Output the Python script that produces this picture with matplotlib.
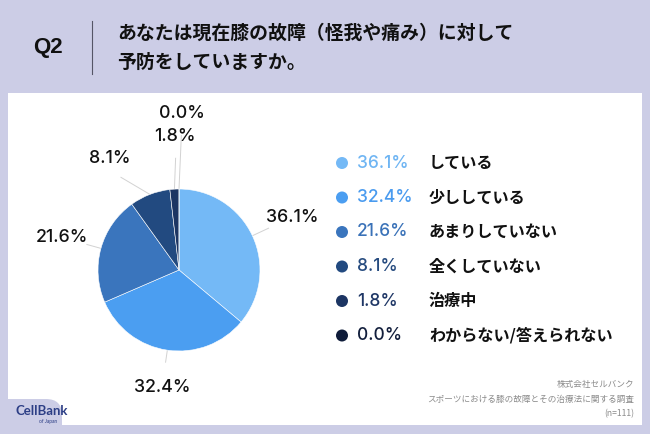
import numpy as np
import matplotlib.pyplot as plt
from matplotlib.patches import Rectangle, FancyBboxPatch, Circle

plt.rcParams['font.family'] = ['Noto Sans CJK JP', 'DejaVu Sans']

# Data
categories = ['している', '少ししている', 'あまりしていない', '全くしていない', '治療中', 'わからない/答えられない']
values = [36.1, 32.4, 21.6, 8.1, 1.8, 0.0]
colors = ['#74b9f6', '#4b9ef1', '#3a75bd', '#224a80', '#1c3563', '#0f1c3a']
legend_text_colors = ['#6fb5f3', '#4a9bef', '#3a72b8', '#264b7f', '#1f3766', '#121e3c']

title_q = 'Q2'
title_lines = ['あなたは現在膝の故障（怪我や痛み）に対して', '予防をしていますか。']
footer = ['株式会社セルバンク', 'スポーツにおける膝の故障とその治療法に関する調査', '(n=111)']

W, H = 650, 434
bg = '#cccde6'

fig = plt.figure(figsize=(6.5, 4.34), dpi=100)
fig.patch.set_facecolor(bg)

# pixel-coordinate canvas
cv = fig.add_axes([0, 0, 1, 1])
cv.set_xlim(0, W)
cv.set_ylim(H, 0)
cv.axis('off')

# white panel + logo tab
cv.add_patch(Rectangle((8, 93), 634, 332, facecolor='white', edgecolor='none'))
cv.add_patch(FancyBboxPatch((-30, 399), 92, 60, boxstyle='round,pad=0,rounding_size=16',
                            facecolor=bg, edgecolor='none'))

# header
cv.text(48, 48, title_q, fontsize=16, fontweight='bold', ha='center', va='center',
        family=['Liberation Sans', 'DejaVu Sans'], color='#111111')
cv.plot([92, 92], [21, 74], color='#555566', lw=0.8)
for i, line in enumerate(title_lines):
    cv.text(117, 33 + i * 29, line, fontsize=13.6, fontweight='bold', ha='left', va='center',
            color='#111111')

# pie
cx, cy, r = 179, 270, 81
pa = fig.add_axes([(cx - 100) / W, (H - cy - 100) / H, 200 / W, 200 / H])
pa.pie(values, colors=colors, startangle=90, counterclock=False, radius=r / 100,
       wedgeprops=dict(edgecolor='white', linewidth=0.4))
pa.set_xlim(-1, 1)
pa.set_ylim(-1, 1)
pa.set_aspect('equal')
pa.axis('off')

# outside labels with leader lines
label_dist = [1.54, 1.47, 1.5, 1.62, 1.65, 1.93]
angle_shift = [0, 0, 0, 11, -1.5, -1]
cum = np.cumsum([0] + values[:-1])
for i, v in enumerate(values):
    mid = 90 - (cum[i] + v / 2) / 100 * 360
    a = np.deg2rad(mid + angle_shift[i])
    lx = cx + r * label_dist[i] * np.cos(a)
    ly = cy - r * label_dist[i] * np.sin(a)
    am = np.deg2rad(mid)
    x0, y0 = cx + r * np.cos(am), cy - r * np.sin(am)
    e = label_dist[i] - 0.27 if i >= 3 else label_dist[i] - 0.32
    x1, y1 = cx + r * e * np.cos(a), cy - r * e * np.sin(a)
    cv.plot([x0, x1], [y0, y1], color='#d2d2d2', lw=0.7, zorder=1)
    cv.text(lx, ly, f'{v:.1f}%', fontsize=12.8, ha='center', va='center',
            family=['Inter', 'DejaVu Sans'], fontweight='medium', color='#111111')

# legend
for i, (c, v, t) in enumerate(zip(colors, values, categories)):
    y = 163 + i * 34.5
    cv.add_patch(Circle((342, y), 6, facecolor=c, edgecolor='none'))
    cv.text(357, y, f'{v:.1f}%', fontsize=12.5, ha='left', va='center',
            family=['Inter', 'DejaVu Sans'], fontweight='medium', color=legend_text_colors[i])
    cv.text(429, y, t, fontsize=11.6, fontweight='bold', ha='left', va='center', color='#111111')

# footer
for i, line in enumerate(footer):
    cv.text(634, 384 + i * 15, line, fontsize=6.2, ha='right', va='center', color='#8a8a8a')

# logo
cv.text(42, 411, 'CellBank', fontsize=9.5, fontweight='bold', ha='center', va='center',
        family=['Lato', 'DejaVu Sans'], color='#2d3f86')
cv.text(48, 422, 'of Japan', fontsize=3.5, ha='center', va='center',
        family=['Lato', 'DejaVu Sans'], color='#2d3f86')

fig.savefig('out.png', dpi=100, facecolor=bg)
